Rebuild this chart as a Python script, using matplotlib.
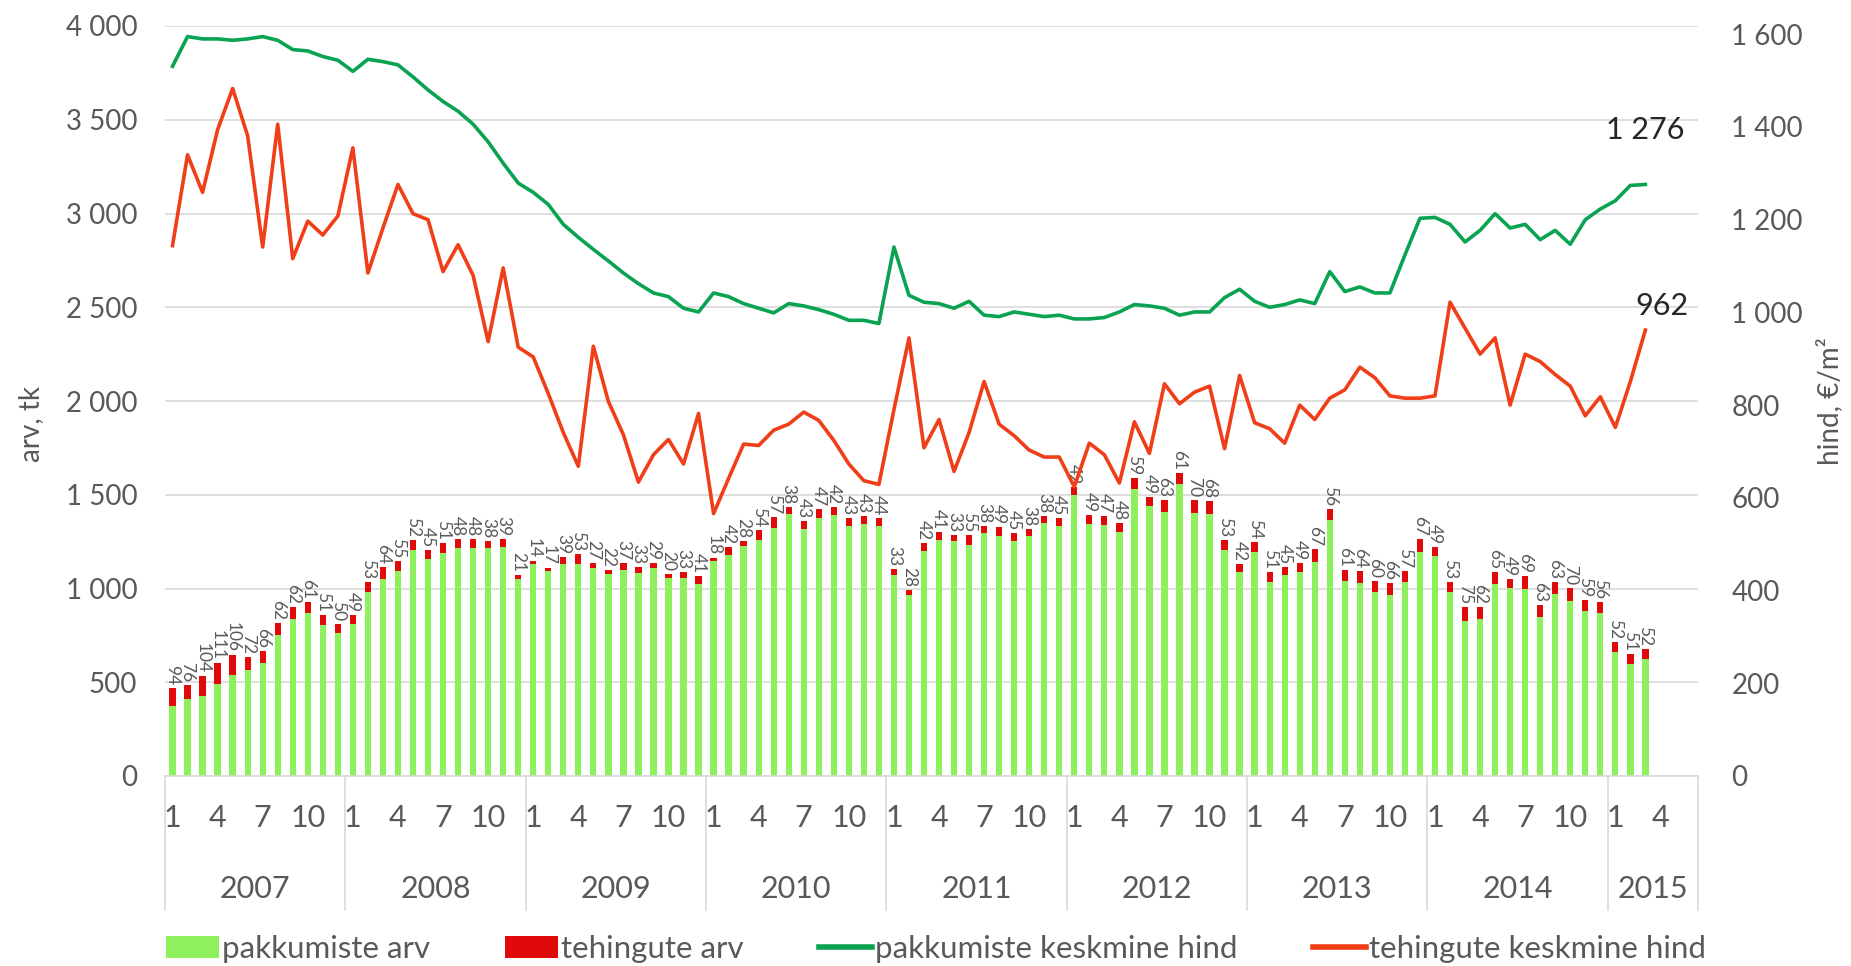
import numpy as np
import matplotlib
matplotlib.use("Agg")
import matplotlib.pyplot as plt
from matplotlib.patches import Patch
from matplotlib.lines import Line2D
import matplotlib.transforms as mtransforms

plt.rcParams['font.family'] = ['Lato', 'DejaVu Sans']

# ---------------- data ----------------
years = [2007, 2008, 2009, 2010, 2011, 2012, 2013, 2014, 2015]
months_per_year = [12, 12, 12, 12, 12, 12, 12, 12, 6]
month_tick_labels = [1, 4, 7, 10]

# pakkumiste arv (offers count, green bars)
offers_count = [
    375, 409, 429, 492, 539, 563, 601, 754, 839, 867, 808, 761,
    810, 982, 1051, 1092, 1207, 1160, 1192, 1216, 1216, 1215, 1223, 1051,
    1133, 1092, 1129, 1131, 1109, 1077, 1099, 1082, 1107, 1057, 1055, 1026,
    1145, 1179, 1225, 1258, 1324, 1397, 1317, 1377, 1393, 1333, 1344, 1332,
    1071, 964, 1201, 1260, 1252, 1230, 1295, 1279, 1251, 1279, 1349, 1331,
    1499, 1343, 1340, 1301, 1530, 1439, 1409, 1555, 1402, 1399, 1206, 1088,
    1194, 1037, 1070, 1087, 1144, 1368, 1038, 1029, 980, 963, 1036, 1197,
    1172, 982, 826, 839, 1023, 1002, 998, 849, 972, 933, 880, 872,
    663, 600, 625,
]

# tehingute arv (transactions count, red bars)
deals_count = [
    94, 76, 104, 111, 106, 72, 66, 62, 62, 61, 51, 50,
    49, 53, 64, 55, 52, 45, 51, 48, 48, 38, 39, 21,
    14, 17, 39, 53, 27, 22, 37, 33, 29, 20, 33, 41,
    18, 42, 28, 54, 57, 38, 43, 47, 42, 43, 43, 44,
    33, 28, 42, 41, 33, 55, 38, 49, 45, 38, 38, 45,
    42, 49, 47, 48, 59, 49, 63, 61, 70, 68, 53, 42,
    54, 51, 45, 49, 67, 56, 61, 64, 60, 66, 57, 67,
    49, 53, 75, 62, 65, 49, 69, 63, 63, 70, 59, 56,
    52, 51, 52,
]

# pakkumiste keskmine hind (offer average price, EUR/m2)
offer_price = [
    1531, 1595, 1590, 1590, 1587, 1590, 1595, 1587, 1567, 1564, 1552, 1544,
    1520, 1546, 1541, 1534, 1508, 1480, 1455, 1434, 1406, 1368, 1322, 1279,
    1259, 1233, 1190, 1162, 1136, 1111, 1085, 1062, 1042, 1034, 1009, 1001,
    1042, 1034, 1019, 1009, 999, 1019, 1014, 1006, 996, 983, 983, 976,
    1141, 1037, 1022, 1019, 1009, 1024, 994, 991, 1001, 996, 991, 994,
    986, 986, 989, 1001, 1017, 1014, 1009, 994, 1001, 1001, 1032, 1050,
    1024, 1011, 1017, 1027, 1019, 1088, 1045, 1055, 1042, 1042, 1124, 1203,
    1205, 1190, 1152, 1177, 1213, 1182, 1190, 1157, 1177, 1147, 1200, 1223,
    1241, 1274, 1276,
]

# tehingute keskmine hind (transaction average price, EUR/m2)
deal_price = [
    1144, 1340, 1259, 1394, 1483, 1381, 1141, 1406, 1116, 1197, 1167, 1208,
    1355, 1085, 1182, 1276, 1213, 1200, 1088, 1146, 1080, 937, 1096, 925,
    904, 825, 741, 668, 927, 808, 736, 634, 693, 726, 673, 782,
    566, 642, 716, 713, 746, 759, 785, 767, 724, 673, 637, 629,
    790, 945, 708, 769, 657, 741, 851, 759, 734, 703, 688, 688,
    624, 718, 693, 632, 764, 696, 846, 803, 828, 841, 706, 864,
    762, 749, 718, 800, 769, 815, 833, 882, 859, 820, 815, 815,
    820, 1022, 966, 910, 945, 800, 910, 894, 866, 841, 777, 818,
    752, 851, 962,
]

# ---------------- styles ----------------
C_BAR_GREEN = '#8EF05C'
C_BAR_RED = '#E10A0A'
C_LINE_GREEN = '#0AA352'
C_LINE_RED = '#F03E18'
C_TEXT = '#595959'
C_GRID = '#D9D9D9'
FS = 20

W, H = 1851, 966
fig = plt.figure(figsize=(W / 100, H / 100), dpi=100)
fig.patch.set_facecolor('white')

ax = fig.add_axes([165 / W, 1 - 776 / H, (1698 - 165) / W, (776 - 26) / H])
ax2 = ax.twinx()

n_cat = sum(months_per_year)
x = np.arange(len(offers_count))
offers = np.array(offers_count)
deals = np.array(deals_count)

ax.bar(x, offers, width=0.42, color=C_BAR_GREEN, zorder=2, linewidth=0)
ax.bar(x, deals, width=0.42, bottom=offers, color=C_BAR_RED, zorder=2, linewidth=0)

for i in range(len(x)):
    ax.text(x[i], offers[i] + deals[i] + 16, str(deals[i]), rotation=270,
            ha='center', va='bottom', fontsize=12.5, color=C_TEXT, zorder=3)

ax.set_xlim(-0.5, n_cat - 0.5)
ax.set_ylim(0, 4000)
yt = np.arange(0, 4001, 500)
ax.set_yticks(yt)
ax.set_yticklabels([f"{v:,}".replace(",", " ") for v in yt])
ax.yaxis.grid(True, color=C_GRID, lw=1.2, zorder=0)
ax.set_axisbelow(True)

ax2.plot(x, offer_price, color=C_LINE_GREEN, lw=2.6, zorder=4)
ax2.plot(x, deal_price, color=C_LINE_RED, lw=2.6, zorder=4)
ax2.set_ylim(0, 1600 * (657 - 22) / (657 - 29))
yt2 = np.arange(0, 1601, 200)
ax2.set_yticks(yt2)
ax2.set_yticklabels([f"{v:,}".replace(",", " ") for v in yt2])
ax2.set_zorder(ax.get_zorder() + 1)
ax2.patch.set_visible(False)

# end labels
ax2.annotate(f"{offer_price[-1]:,}".replace(",", " "), (x[-1], offer_price[-1]),
             xytext=(0, 40), textcoords='offset pixels', ha='center', va='bottom',
             fontsize=22, color='#262626')
ax2.annotate(f"{deal_price[-1]:,}".replace(",", " "), (x[-1], deal_price[-1]),
             xytext=(17, 10), textcoords='offset pixels', ha='center', va='bottom',
             fontsize=22, color='#262626')

for a in (ax, ax2):
    for s in ('left', 'right', 'top'):
        a.spines[s].set_visible(False)
    a.tick_params(length=0, colors=C_TEXT, labelsize=FS)
ax.spines['bottom'].set_color(C_GRID)
ax.spines['bottom'].set_linewidth(1.2)
ax2.spines['bottom'].set_visible(False)
ax.tick_params(axis='y', pad=20)
ax2.tick_params(axis='y', pad=24)

# month ticks and year groups
tick_pos, tick_lab = [], []
start = 0
bounds = [-0.5]
centers = []
for yr, nm in zip(years, months_per_year):
    for m in range(1, nm + 1):
        if m in month_tick_labels:
            tick_pos.append(start + m - 1)
            tick_lab.append(str(m))
    centers.append(start + (nm - 1) / 2)
    start += nm
    bounds.append(start - 0.5)
ax.set_xticks(tick_pos)
ax.set_xticklabels(tick_lab)
ax.tick_params(axis='x', pad=20, labelsize=22)

trans = mtransforms.blended_transform_factory(ax.transData, ax.transAxes)
for yr, c in zip(years, centers):
    ax.text(c, -0.15, str(yr), transform=trans, ha='center', va='center',
            fontsize=22, color=C_TEXT)
for b in bounds:
    ax.plot([b, b], [0, -0.178], transform=trans, color=C_GRID, lw=1.2,
            clip_on=False)

ax.set_ylabel('arv, tk', fontsize=FS, color=C_TEXT)
ax.yaxis.set_label_coords(-0.079, 0.47)
ax2.set_ylabel('hind, €/m²', fontsize=FS, color=C_TEXT)
ax2.yaxis.set_label_coords(1.077, 0.5)

handles = [
    Patch(facecolor=C_BAR_GREEN, edgecolor='none'),
    Patch(facecolor=C_BAR_RED, edgecolor='none'),
    Line2D([0], [0], color=C_LINE_GREEN, lw=4),
    Line2D([0], [0], color=C_LINE_RED, lw=4),
]
labels = ['pakkumiste arv', 'tehingute arv', 'pakkumiste keskmine hind',
          'tehingute keskmine hind']
fig.legend(handles, labels, loc='center', bbox_to_anchor=(0.5055, 0.018),
           ncol=4, frameon=False, fontsize=22.5, handlelength=1.7,
           handletextpad=0.1, columnspacing=2.4, labelcolor=C_TEXT)

fig.savefig('out.png', dpi=100)
